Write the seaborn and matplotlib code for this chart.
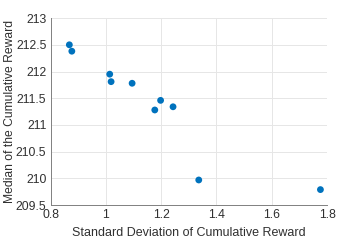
import matplotlib
matplotlib.use("Agg")
import matplotlib.pyplot as plt
import seaborn as sns
import pandas as pd

std_dev = [0.868, 0.877, 1.014, 1.019, 1.095, 1.177, 1.198, 1.243, 1.336, 1.776]
median_reward = [212.50, 212.38, 211.95, 211.81, 211.78, 211.28, 211.46, 211.34, 209.97, 209.79]
x_ticks = [0.8, 1.0, 1.2, 1.4, 1.6, 1.8]
x_tick_labels = ["0.8", "1", "1.2", "1.4", "1.6", "1.8"]
y_ticks = [209.5, 210, 210.5, 211, 211.5, 212, 212.5, 213]
y_tick_labels = ["209.5", "210", "210.5", "211", "211.5", "212", "212.5", "213"]

df = pd.DataFrame({"std": std_dev, "median": median_reward})

sns.set_style("white")
plt.rcParams['font.family'] = ['Liberation Sans', 'DejaVu Sans']

fig = plt.figure(figsize=(3.61, 2.41), dpi=100)
ax = fig.add_axes([0.14, 0.149, 0.766, 0.776])
sns.scatterplot(data=df, x="std", y="median", ax=ax, color="#0072BD",
                s=24, edgecolor="none", zorder=3)

ax.set_xlim(0.8, 1.8)
ax.set_ylim(209.5, 213)
ax.set_xticks(x_ticks)
ax.set_xticklabels(x_tick_labels)
ax.set_yticks(y_ticks)
ax.set_yticklabels(y_tick_labels)
ax.grid(True, color="#e6e6e6", linewidth=0.7)
ax.set_axisbelow(True)
for s in ["top", "right"]:
    ax.spines[s].set_visible(False)
for s in ["left", "bottom"]:
    ax.spines[s].set_color("#808080")
    ax.spines[s].set_linewidth(0.7)
ax.tick_params(direction="in", length=3, width=0.7, color="#808080",
               labelsize=8.8, labelcolor="#303030", pad=3)
ax.set_xlabel("Standard Deviation of Cumulative Reward", fontsize=9, color="#303030", va="center")
ax.set_ylabel("Median of the Cumulative Reward", fontsize=8.7, color="#303030", va="center")
ax.xaxis.set_label_coords(0.5, -0.15)
ax.yaxis.set_label_coords(-0.147, 0.5)

fig.savefig("out.png", dpi=100)
